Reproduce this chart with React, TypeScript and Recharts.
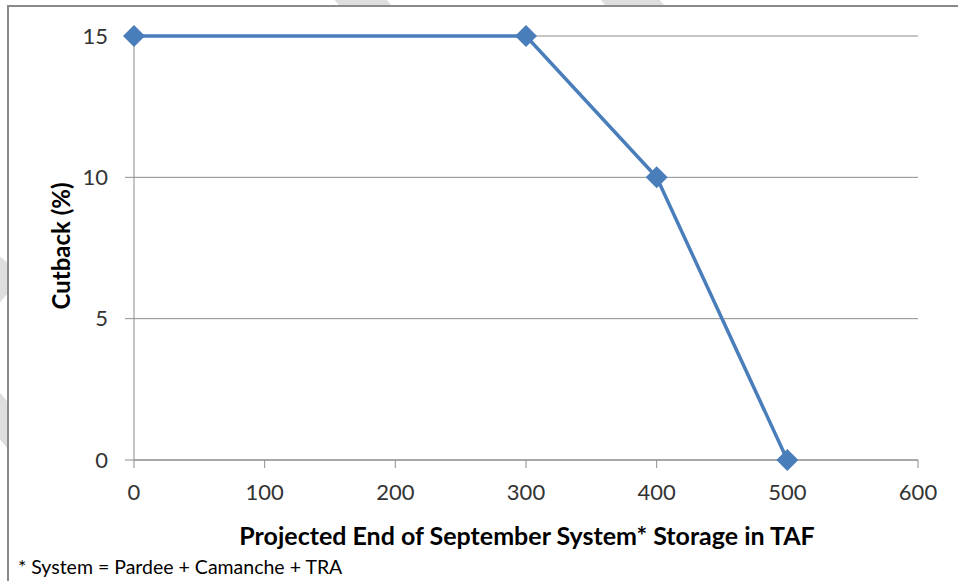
import { LineChart, Line, XAxis, YAxis, CartesianGrid } from "recharts";

const storage = [0, 300, 400, 500];
const cutback = [15, 15, 10, 0];
const xTicks = [0, 100, 200, 300, 400, 500, 600];
const yTicks = [0, 5, 10, 15];

const data = storage.map((s, i) => ({ storage: s, cutback: cutback[i] }));

const BLUE = "#4a7ebb";
const GRID = "#8c8c8c";
const FONT = "Lato, 'Open Sans', sans-serif";

// eslint-disable-next-line @typescript-eslint/no-explicit-any
function Diamond({ cx, cy }: any) {
  if (cx == null || cy == null) return null;
  const r = 11;
  return (
    <polygon
      points={`${cx},${cy - r} ${cx + r},${cy} ${cx},${cy + r} ${cx - r},${cy}`}
      fill={BLUE}
    />
  );
}

// faint watermark bands, only the bits outside the frame show
const stripes = [
  { left: 345, top: -40, w: 40, h: 90, rot: -40 },
  { left: 612, top: -40, w: 45, h: 90, rot: -40 },
  { left: -20, top: 260, w: 30, h: 50, rot: 40 },
  { left: -16, top: 380, w: 30, h: 70, rot: -40 },
];

export default function App() {
  return (
    <div
      style={{
        position: "absolute",
        left: 0,
        top: 0,
        width: 958,
        height: 581,
        overflow: "hidden",
        background: "#fff",
        fontFamily: FONT,
      }}
    >
      {stripes.map((s, i) => (
        <div
          key={i}
          style={{
            position: "absolute",
            left: s.left,
            top: s.top,
            width: s.w,
            height: s.h,
            background: "#dedede",
            transform: `rotate(${s.rot}deg)`,
          }}
        />
      ))}

      {/* chart frame */}
      <div
        style={{
          position: "absolute",
          left: 7,
          top: 5,
          width: 960,
          height: 590,
          background: "#fff",
          borderLeft: "2px solid #8a8a8a",
          borderTop: "2px solid #8a8a8a",
        }}
      />

      <div style={{ position: "absolute", left: 0, top: 0 }}>
        <LineChart
          width={958}
          height={581}
          data={data}
          margin={{ top: 36, right: 40, left: 74, bottom: 61 }}
        >
          <CartesianGrid vertical={false} stroke={GRID} strokeWidth={1} />
          <XAxis
            dataKey="storage"
            type="number"
            domain={[0, 600]}
            ticks={xTicks}
            interval={0}
            height={60}
            stroke={GRID}
            tickSize={8}
            tickMargin={16}
            tick={{ fill: "#333", fontSize: 22, fontFamily: FONT }}
          />
          <YAxis
            dataKey="cutback"
            type="number"
            domain={[0, 15]}
            ticks={yTicks}
            interval={0}
            width={60}
            stroke={GRID}
            tickSize={9}
            tickMargin={17}
            tick={{ fill: "#333", fontSize: 22, fontFamily: FONT }}
          />
          <Line
            dataKey="cutback"
            stroke={BLUE}
            strokeWidth={3.5}
            dot={<Diamond />}
            activeDot={false}
            isAnimationActive={false}
          />
        </LineChart>
      </div>

      {/* axis titles */}
      <div
        style={{
          position: "absolute",
          left: 60,
          top: 246,
          transform: "translate(-50%, -50%) rotate(-90deg)",
          whiteSpace: "nowrap",
          fontWeight: 700,
          fontSize: 24,
          color: "#000",
        }}
      >
        Cutback (%)
      </div>
      <div
        style={{
          position: "absolute",
          left: 527,
          top: 535,
          transform: "translate(-50%, -50%)",
          whiteSpace: "nowrap",
          fontWeight: 700,
          fontSize: 25,
          color: "#000",
        }}
      >
        Projected End of September System* Storage in TAF
      </div>
      <div
        style={{
          position: "absolute",
          left: 18,
          top: 566,
          transform: "translateY(-50%)",
          whiteSpace: "nowrap",
          fontSize: 19.5,
          color: "#000",
        }}
      >
        * System = Pardee + Camanche + TRA
      </div>
    </div>
  );
}
